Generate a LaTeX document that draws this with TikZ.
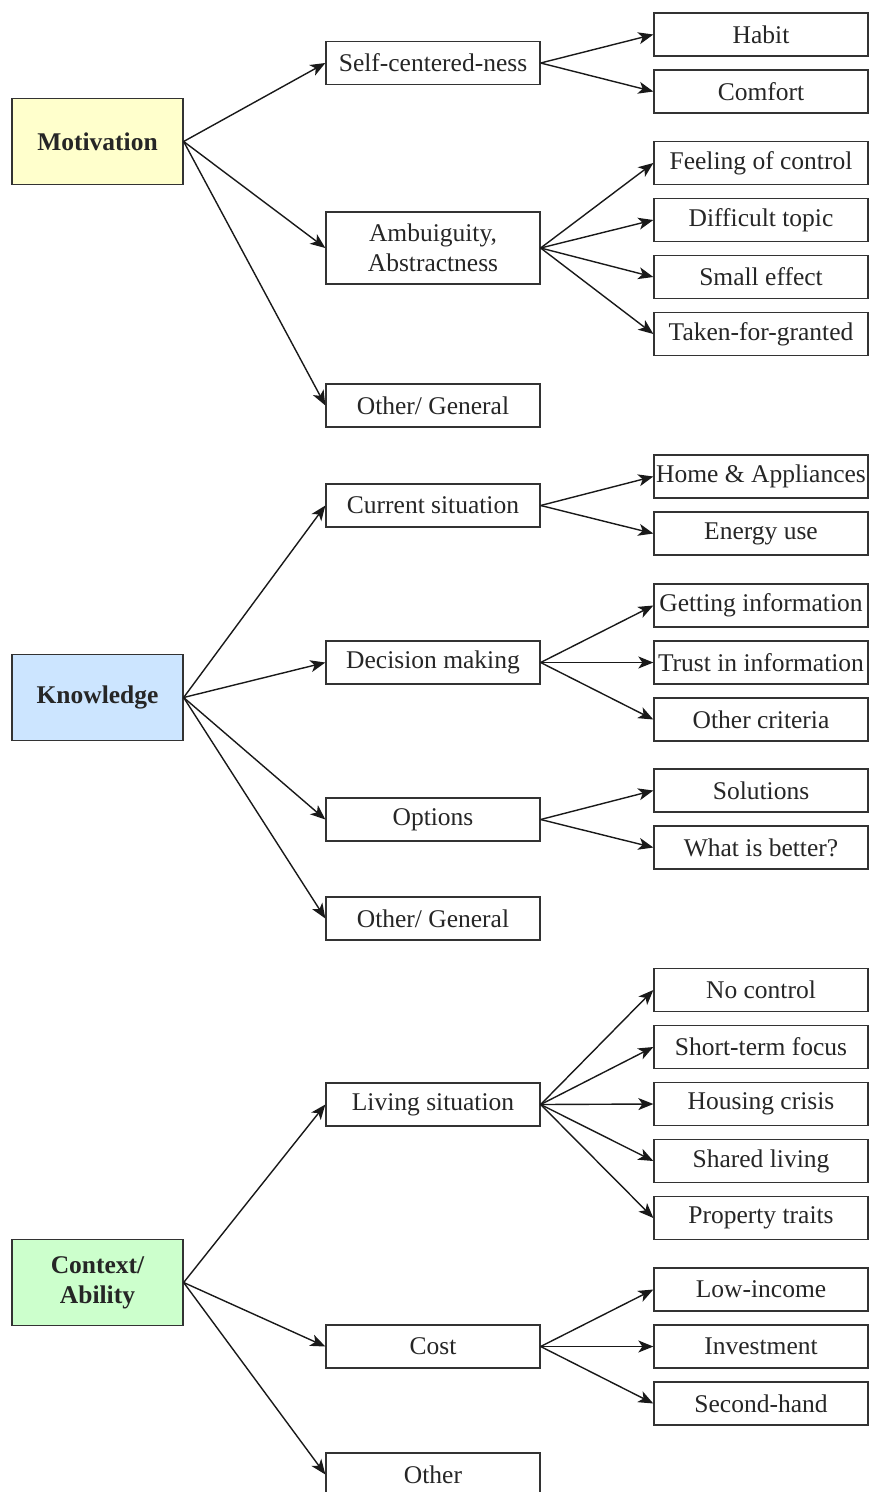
\documentclass[tikz,border=0pt]{standalone}
\usepackage{fontspec}
\setmainfont{Liberation Serif}
\usetikzlibrary{arrows.meta}
\definecolor{boxline}{HTML}{333333}
\definecolor{motfill}{HTML}{FFFFCC}
\definecolor{knofill}{HTML}{CCE5FF}
\definecolor{ctxfill}{HTML}{CCFFCC}
\tikzset{
  box/.style={draw=boxline, line width=1.3pt, fill=white, inner sep=0pt, align=center,
    font=\fontsize{25.5}{30}\selectfont, text=black!85},
  rootbox/.style={box, minimum width=171pt, minimum height=86pt, font=\fontsize{25.5}{30}\selectfont\bfseries},
  midbox/.style={box, minimum width=214pt, minimum height=43pt},
  leafbox/.style={box, minimum width=214pt, minimum height=43pt},
  arr/.style={draw=black!90, line width=1.4pt, -{Stealth[length=15pt,width=12pt,inset=4pt]}}
}
\begin{document}
\begin{tikzpicture}[x=1pt,y=-1pt]
\useasboundingbox (0,0) rectangle (869,1492);
% roots
\node[rootbox, fill=motfill] (mot) at (97.5,141.5) {Motivation};
\node[rootbox, fill=knofill] (kno) at (97.5,697.5) {Knowledge};
\node[rootbox, fill=ctxfill] (ctx) at (97.5,1282.5) {Context/\\Ability};
% middle
\node[midbox] (self) at (433,63) {Self-centered-ness};
\node[midbox, minimum height=72pt] (amb) at (433,248) {Ambuiguity,\\Abstractness};
\node[midbox] (mog) at (433,405.5) {Other/ General};
\node[midbox] (cur) at (433,505.5) {Current situation};
\node[midbox] (dec) at (433,662.5) {Decision making};
\node[midbox] (opt) at (433,819.5) {Options};
\node[midbox] (kog) at (433,918.5) {Other/ General};
\node[midbox] (liv) at (433,1104.5) {Living situation};
\node[midbox] (cost) at (433,1346.5) {Cost};
\node[midbox] (coth) at (433,1474.5) {Other};
% leaves
\node[leafbox] (habit) at (761,34.5) {Habit};
\node[leafbox] (comf) at (761,91.5) {Comfort};
\node[leafbox] (feel) at (761,163) {Feeling of control};
\node[leafbox] (diff) at (761,220) {Difficult topic};
\node[leafbox] (small) at (761,277) {Small effect};
\node[leafbox] (taken) at (761,334) {Taken-for-granted};
\node[leafbox] (home) at (761,476.5) {Home \& Appliances};
\node[leafbox] (energy) at (761,533.5) {Energy use};
\node[leafbox] (getinf) at (761,605.5) {Getting information};
\node[leafbox] (trust) at (761,662.5) {Trust in information};
\node[leafbox] (crit) at (761,719.5) {Other criteria};
\node[leafbox] (sol) at (761,790.5) {Solutions};
\node[leafbox] (better) at (761,847.5) {What is better?};
\node[leafbox] (noc) at (761,990) {No control};
\node[leafbox] (short) at (761,1047) {Short-term focus};
\node[leafbox] (house) at (761,1104) {Housing crisis};
\node[leafbox] (shared) at (761,1161) {Shared living};
\node[leafbox] (prop) at (761,1218) {Property traits};
\node[leafbox] (low) at (761,1289.5) {Low-income};
\node[leafbox] (inv) at (761,1346.5) {Investment};
\node[leafbox] (sec) at (761,1403.5) {Second-hand};
% connectors
\foreach \a/\b in {mot/self,mot/amb,mot/mog,self/habit,self/comf,amb/feel,amb/diff,amb/small,amb/taken,
  kno/cur,kno/dec,kno/opt,kno/kog,cur/home,cur/energy,dec/getinf,dec/trust,dec/crit,opt/sol,opt/better,
  ctx/liv,ctx/cost,ctx/coth,liv/noc,liv/short,liv/house,liv/shared,liv/prop,cost/low,cost/inv,cost/sec}
  \draw[arr] (\a.east) -- (\b.west);
\end{tikzpicture}
\end{document}
